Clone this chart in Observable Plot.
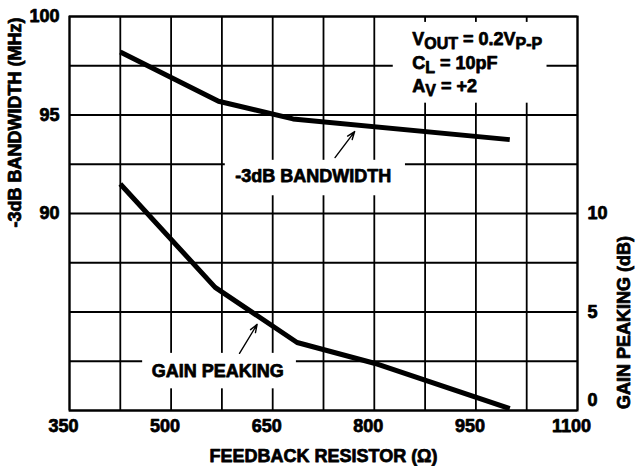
<!DOCTYPE html>
<html>
<head>
<meta charset="utf-8">
<script src="https://cdn.jsdelivr.net/npm/d3@7"></script>
<script src="https://cdn.jsdelivr.net/npm/@observablehq/plot@0.6"></script>
<style>
  html, body { margin: 0; padding: 0; background: #fff; }
  svg text { white-space: pre; font-weight: 700; font-family: Arial, "Liberation Sans", Helvetica, sans-serif; stroke: black; stroke-width: 0.75px; stroke-linejoin: round; }
</style>
</head>
<body>
<div id="chart"></div>
<script>
// ---- data ----
const bwResistor = [425, 570, 680, 1000];
const bandwidth = [98.2, 95.7, 94.8, 93.75];          // MHz (left axis)
const gpResistor = [425, 565, 686, 800, 1000];
const gainPeaking = [11.5, 6.25, 3.45, 2.4, 0.1];      // dB (right axis)

const xTickLabels = [350, 500, 650, 800, 950, 1100];
const xGrid = [350, 425, 500, 575, 650, 725, 800, 875, 950, 1025, 1100];
const leftTicks = [90, 95, 100];
const rightTicks = [0, 5, 10];
const yGrid = [80, 82.5, 85, 87.5, 90, 92.5, 95, 97.5, 100];

const xTitle = "FEEDBACK RESISTOR (Ω)";
const leftTitle = "-3dB BANDWIDTH (MHz)";
const rightTitle = "GAIN PEAKING (dB)";

const conditionLines = ["V_OUT = 0.2V_P-P", "C_L = 10pF", "A_V = +2"];
const conditionY = [98.85, 97.63, 96.47];
const conditionX = 856;

// curve labels: [text, x, y(left-axis units)]
const curveLabels = [
  {text: "-3dB BANDWIDTH", x: 710, y: 91.87},
  {text: "GAIN PEAKING", x: 569, y: 81.98}
];
// white boxes behind labels (data units)
const labelBoxes = [
  {x1: 828, x2: 1055, y1: 95.6, y2: 99.7},
  {x1: 580, x2: 846, y1: 90.9, y2: 92.7},
  {x1: 458, x2: 685, y1: 81.1, y2: 82.9}
];
// pointer arrows (data units, left-axis y)
const pointers = [
  {x1: 742, y1: 92.84, x2: 771, y2: 94.16},
  {x1: 601, y1: 82.9, x2: 627, y2: 84.37}
];

// gain (0..20 dB) shares the frame with bandwidth (80..100 MHz)
const gainToY = g => g + 80;

const bwData = bwResistor.map((r, i) => ({r, v: bandwidth[i]}));
const gpData = gpResistor.map((r, i) => ({r, v: gainToY(gainPeaking[i])}));

const B = 700;
const plot = Plot.plot({
  width: 635,
  height: 466,
  marginLeft: 69,
  marginRight: 58,
  marginTop: 16,
  marginBottom: 56,
  style: {fontFamily: "Arial, sans-serif", fontSize: "18px", fontWeight: "700", color: "black", background: "white"},
  x: {domain: [350, 1100]},
  y: {domain: [80, 100]},
  marks: [
    Plot.ruleX(xGrid, {stroke: "black", strokeWidth: 1.8}),
    Plot.ruleY(yGrid, {stroke: "black", strokeWidth: 1.8}),
    Plot.rect(labelBoxes, {x1: "x1", x2: "x2", y1: "y1", y2: "y2", fill: "white"}),
    Plot.line(bwData, {x: "r", y: "v", stroke: "black", strokeWidth: 5, strokeLinecap: "butt", strokeLinejoin: "round"}),
    Plot.line(gpData, {x: "r", y: "v", stroke: "black", strokeWidth: 5, strokeLinecap: "butt", strokeLinejoin: "round"}),
    Plot.arrow(pointers, {x1: "x1", y1: "y1", x2: "x2", y2: "y2", stroke: "black", strokeWidth: 1.4, headLength: 9, headAngle: 40}),
    Plot.text(curveLabels, {x: "x", y: "y", text: "text", fill: "black", fontSize: 18, fontWeight: B, textAnchor: "middle", lineAnchor: "middle"}),
    Plot.text(conditionLines, {x: () => conditionX, y: (d, i) => conditionY[i], text: d => d, fill: "black", fontSize: 18, fontWeight: B, textAnchor: "start", lineAnchor: "middle"}),
    Plot.frame({stroke: "black", strokeWidth: 2}),
    Plot.axisX(xTickLabels, {tickSize: 0, tickPadding: 9, label: null, fontSize: 18, fontWeight: B, dx: -6, fill: "black", tickFormat: d => String(d)}),
    Plot.axisY(leftTicks, {anchor: "left", tickSize: 0, tickPadding: 10, label: null, fontSize: 18, fontWeight: B, fill: "black", tickFormat: d => String(d)}),
    Plot.axisY(rightTicks.filter(t => t > 0).map(gainToY), {anchor: "right", tickSize: 0, tickPadding: 10, label: null, fontSize: 18, fontWeight: B, fill: "black", tickFormat: d => String(d - 80)}),
    Plot.axisY(rightTicks.filter(t => t === 0).map(gainToY), {anchor: "right", tickSize: 0, tickPadding: 10, label: null, fontSize: 18, fontWeight: B, fill: "black", dy: -10, tickFormat: d => String(d - 80)}),
    Plot.text([xTitle], {frameAnchor: "bottom", dy: 46, text: d => d, fontSize: 18, fontWeight: B, fill: "black", lineAnchor: "middle"}),
    Plot.text([leftTitle], {frameAnchor: "left", dx: -54, dy: -91, rotate: -90, text: d => d, fontSize: 18, fontWeight: B, fill: "black", lineAnchor: "middle", textAnchor: "middle"}),
    Plot.text([rightTitle], {frameAnchor: "right", dx: 47, dy: 109, rotate: -90, text: d => d, fontSize: 18, fontWeight: B, fill: "black", lineAnchor: "middle", textAnchor: "middle"})
  ]
});

// render subscripts (parts prefixed with "_")
d3.select(plot).selectAll("text").each(function() {
  const s = this.textContent;
  if (!s.includes("_") || this.childElementCount > 0) return;
  const parts = s.split(/(_\S+)/).filter(p => p.length);
  const t = d3.select(this);
  t.text(null);
  let shifted = false;
  for (const p of parts) {
    const ts = t.append("tspan");
    if (p.startsWith("_")) {
      ts.text(p.slice(1)).attr("font-size", 16).attr("dy", shifted ? 0 : 4);
      shifted = true;
    } else {
      ts.text(p).attr("font-size", 18).attr("dy", shifted ? -4 : 0);
      shifted = false;
    }
  }
});

document.getElementById("chart").appendChild(plot);
</script>
</body>
</html>
